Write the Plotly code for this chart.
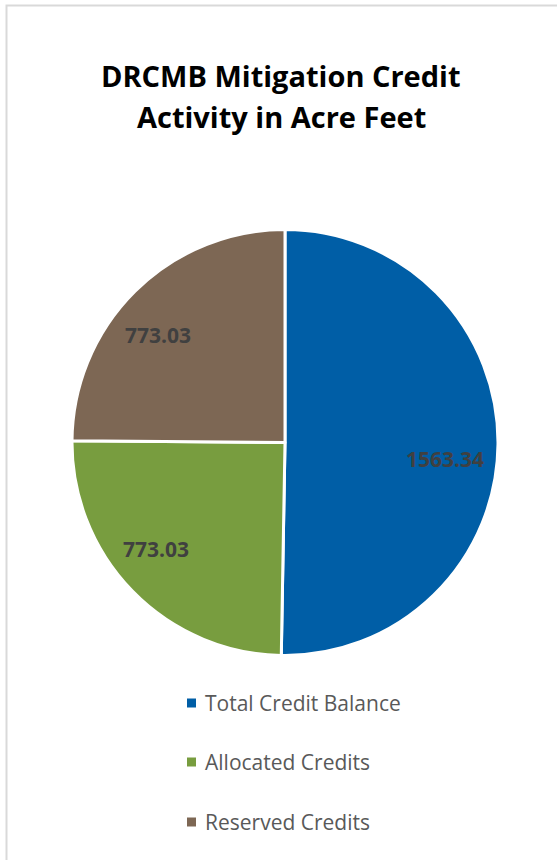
import math
import plotly.graph_objects as go

W, H = 557, 860

labels = ["Total Credit Balance", "Allocated Credits", "Reserved Credits"]
values = [1563.34, 773.03, 773.03]
colors = ["#005EA6", "#789D3F", "#7D6754"]
title_lines = ["DRCMB Mitigation Credit", "Activity in Acre Feet"]

def px(x):
    return x / W

def py(y):
    return 1 - y / H

cx, cy, R = 285, 442.5, 213

fig = go.Figure()
fig.add_trace(go.Pie(
    labels=labels,
    values=values,
    sort=False,
    direction="clockwise",
    rotation=0,
    marker=dict(colors=colors, line=dict(color="white", width=3)),
    textinfo="none",
    domain=dict(x=[px(cx - R), px(cx + R)], y=[py(cy + R), py(cy - R)]),
    showlegend=False,
    hoverinfo="label+value",
))

annotations = []

# data labels placed at each slice's mid-angle (Excel-like offsets)
label_r = 0.78 * R
nudges = [(-6, 15), (-10, -9), (-10, 10)]
total = sum(values)
cum = 0.0
for v, (nx, ny) in zip(values, nudges):
    mid = 2 * math.pi * (cum + v / 2) / total
    cum += v
    lx = cx + label_r * math.sin(mid)
    ly = cy - label_r * math.cos(mid)
    annotations.append(dict(
        text="<b>%.2f</b>" % v, x=px(lx), y=py(ly), xref="paper", yref="paper",
        xanchor="center", yanchor="middle", showarrow=False,
        xshift=nx, yshift=-ny,
        font=dict(family="Open Sans", size=21, color="#404040"),
    ))

title_y = [75, 116]
for t, yy in zip(title_lines, title_y):
    annotations.append(dict(
        text="<b>%s</b>" % t, x=px(281), y=py(yy), xref="paper", yref="paper",
        xanchor="center", yanchor="middle", showarrow=False,
        font=dict(family="Open Sans", size=29, color="#000000"),
    ))

shapes = [dict(type="rect", xref="paper", yref="paper",
               x0=px(6.5), x1=px(W + 20), y0=py(5.5), y1=py(H + 20),
               line=dict(color="#D9D9D9", width=2), fillcolor="rgba(0,0,0,0)", layer="below")]

leg_y = [703, 762, 822]
for lab, col, yy in zip(labels, colors, leg_y):
    shapes.append(dict(type="rect", xref="paper", yref="paper",
                       x0=px(187), x1=px(196), y0=py(yy + 4.5), y1=py(yy - 4.5),
                       line=dict(width=0), fillcolor=col))
    annotations.append(dict(
        text=lab, x=px(203), y=py(yy), xref="paper", yref="paper",
        xanchor="left", yanchor="middle", showarrow=False,
        font=dict(family="Open Sans", size=21, color="#595959"),
    ))

fig.update_layout(
    width=W, height=H,
    margin=dict(l=0, r=0, t=0, b=0),
    paper_bgcolor="white",
    plot_bgcolor="white",
    annotations=annotations,
    shapes=shapes,
)

fig.write_html("out.html")
